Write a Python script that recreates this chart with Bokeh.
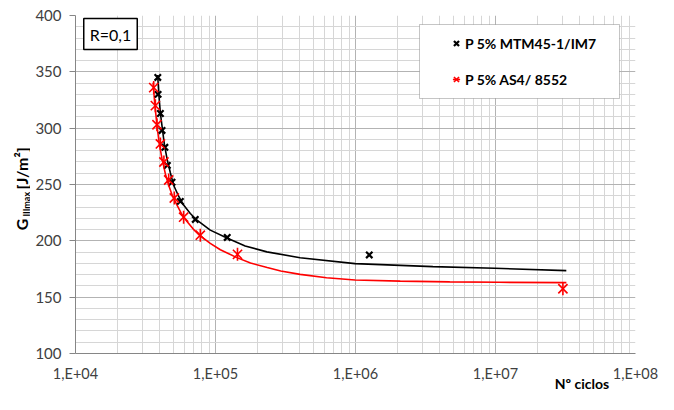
import math
from bokeh.plotting import figure
from bokeh.layouts import row
from bokeh.core.properties import value
from bokeh.models import (FixedTicker, Label, Legend, LegendItem, BoxAnnotation, Range1d,
                          LogAxis)
from bokeh.embed import file_html
from bokeh.resources import INLINE

# ---- data ----
mtm_cycles = [38700, 38900, 40400, 41500, 43500, 45300, 48900, 56100, 71700, 121300, 1254000]
mtm_g = [345, 330, 313, 298, 283, 267, 252, 235, 219, 203, 187.5]

as4_cycles = [36200, 37200, 38200, 40400, 42800, 46300, 50800, 59200, 77900, 143600, 30300000]
as4_g = [336, 320, 303, 286, 270, 254, 238, 221, 205, 188, 157.5]

mtm_fit_cycles = [38620, 39390, 40370, 41520, 43110, 45070, 47590, 50220, 54260, 59190,
                  66070, 73750, 91750, 120700, 162900, 232700, 402200, 992000,
                  3569000, 9879000, 32050000]
mtm_fit_g = [347.2, 329.6, 313.8, 301.6, 285.8, 272.7, 260.4, 249.3, 240.2, 231.7,
             224.3, 218.3, 209.5, 202.5, 195.5, 190.2, 185.0, 179.8,
             177.1, 175.6, 173.6]

as4_fit_cycles = [35810, 36880, 38240, 39710, 41520, 43820, 46270, 49160, 53100, 57000,
                  62580, 69380, 77050, 91750, 108300, 142200, 177800, 234000, 292500,
                  402200, 621000, 992000, 2087000, 4712000, 10640000, 32080000]
as4_fit_g = [340.4, 320.9, 301.8, 285.8, 272.7, 259.6, 249.3, 240.2, 231.7, 224.3,
             217.2, 210.4, 204.8, 197.8, 192.1, 185.1, 180.3, 176.3, 173.3,
             170.2, 167.2, 165.3, 164.2, 163.6, 163.2, 162.9]

x_ticks = [10000, 100000, 1000000, 10000000, 100000000]
x_tick_labels = ["1,E+04", "1,E+05", "1,E+06", "1,E+07", "1,E+08"]
y_ticks = [100, 150, 200, 250, 300, 350, 400]

series_labels = ["P 5% MTM45-1/IM7", "P 5% AS4/ 8552"]
x_title = "Nº ciclos"
y_title_parts = ["G", "IIImax", "[J/m²]"]
note_text = "R=0,1"

FONT = "Lato"
TOTAL_W, TOTAL_H = 658, 394
TITLE_W = 30
BORDER_TOP, BORDER_BOTTOM = 15, 37

# ---------- narrow strip holding the y-axis title (same vertical scale as the chart) ----------
t = figure(width=TITLE_W, height=TOTAL_H, x_range=Range1d(0, TITLE_W), y_range=Range1d(100, 400),
           output_backend="svg", toolbar_location=None,
           x_axis_location=None, y_axis_location=None,
           min_border_left=0, min_border_right=0,
           min_border_top=BORDER_TOP, min_border_bottom=BORDER_BOTTOM)
t.outline_line_color = None
t.grid.visible = False
t.text(x=[21], y=[209.5], text=[y_title_parts[0]], angle=math.pi / 2,
       text_align="left", text_baseline="middle", text_font=value(FONT),
       text_font_size="16px", text_font_style="bold", text_color="black")
t.text(x=[25.5], y=[221.5], text=[y_title_parts[1]], angle=math.pi / 2,
       text_align="left", text_baseline="middle", text_font=value(FONT),
       text_font_size="9px", text_font_style="bold", text_color="black")
t.text(x=[21], y=[245.5], text=[y_title_parts[2]], angle=math.pi / 2,
       text_align="left", text_baseline="middle", text_font=value(FONT),
       text_font_size="16px", text_font_style="bold", text_color="black")

# ---------- main chart ----------
p = figure(width=TOTAL_W - TITLE_W, height=TOTAL_H, x_axis_type="log",
           x_range=(1e4, 1e8), y_range=(100, 400),
           output_backend="svg", toolbar_location=None,
           min_border_left=75 - TITLE_W, min_border_right=23,
           min_border_top=BORDER_TOP, min_border_bottom=BORDER_BOTTOM)
p.outline_line_color = None
p.background_fill_color = "white"

x_minor = [m * 10 ** e for e in range(4, 8) for m in range(2, 10)]
y_minor = [v for v in range(100, 401, 10) if v % 50 != 0]
p.xaxis.ticker = FixedTicker(ticks=x_ticks, minor_ticks=x_minor)
p.yaxis.ticker = FixedTicker(ticks=y_ticks, minor_ticks=y_minor)
p.xgrid.ticker = p.xaxis.ticker
p.ygrid.ticker = p.yaxis.ticker
p.xaxis.major_label_overrides = {t_: l for t_, l in zip(x_ticks, x_tick_labels)}

for g in (p.xgrid, p.ygrid):
    g.grid_line_color = "#b3b3b3"
    g.grid_line_width = 1
    g.minor_grid_line_color = "#d6d6d6"
    g.minor_grid_line_width = 1

for ax in (p.xaxis, p.yaxis):
    ax.axis_line_color = "#868686"
    ax.major_tick_line_color = "#868686"
    ax.minor_tick_in = 0
    ax.minor_tick_out = 0
    ax.major_tick_in = 0
    ax.major_label_text_font = FONT
    ax.major_label_text_color = "#404040"
p.xaxis.major_label_text_font_size = "14.5px"
p.yaxis.major_label_text_font_size = "15px"
p.xaxis.major_tick_out = 0
p.xaxis.major_label_standoff = 11
p.yaxis.major_tick_out = 6
p.yaxis.major_label_standoff = 8

# x-axis title: a bare second axis whose single label sits beside the last tick label
title_pos = 4.15e7
title_axis = LogAxis(ticker=FixedTicker(ticks=[title_pos], minor_ticks=[]),
                     major_label_overrides={title_pos: x_title},
                     axis_line_color=None, major_tick_line_color=None,
                     minor_tick_line_color=None, major_tick_in=0, major_tick_out=0,
                     major_label_standoff=-10,
                     major_label_text_font=FONT, major_label_text_font_size="14px",
                     major_label_text_font_style="bold", major_label_text_color="black")
p.add_layout(title_axis, "below")

# curves
p.line(mtm_fit_cycles, mtm_fit_g, line_color="black", line_width=1.6)
p.line(as4_fit_cycles, as4_fit_g, line_color="#ff0000", line_width=1.6)

# markers
r_mtm = p.scatter(mtm_cycles, mtm_g, marker="x", size=9, line_color="black", line_width=2.2)
r_as4a = p.scatter(as4_cycles, as4_g, marker="x", size=13, line_color="#ff0000", line_width=1.6)
r_as4b = p.scatter(as4_cycles, as4_g, marker="dash", angle=math.pi / 2, size=13,
                   line_color="#ff0000", line_width=1.6)

# legend box + legend
box = BoxAnnotation(left=344, right=544, top=329, bottom=255,
                    left_units="screen", right_units="screen",
                    top_units="screen", bottom_units="screen",
                    fill_color="white", fill_alpha=1.0,
                    line_color="#404040", line_width=1)
p.add_layout(box)

legend = Legend(items=[LegendItem(label=series_labels[0], renderers=[r_mtm]),
                       LegendItem(label=series_labels[1], renderers=[r_as4a, r_as4b])],
                location=(372, 264), orientation="vertical",
                padding=0, margin=0, spacing=16,
                glyph_width=18, glyph_height=20, label_height=20, label_standoff=0,
                label_text_font=FONT, label_text_font_size="14px",
                label_text_font_style="bold", label_text_color="black",
                border_line_alpha=0, background_fill_alpha=0)
p.add_layout(legend)

# R=0,1 box
p.add_layout(Label(x=35, y=319.5, x_units="screen", y_units="screen", text=note_text,
                   text_align="center", text_baseline="middle",
                   text_font=FONT, text_font_size="16px", text_color="black",
                   border_line_color="black", border_line_width=1.5,
                   background_fill_color="white", padding=6))

layout = row(t, p, spacing=0)
open("out.html", "w").write(file_html(layout, INLINE))
